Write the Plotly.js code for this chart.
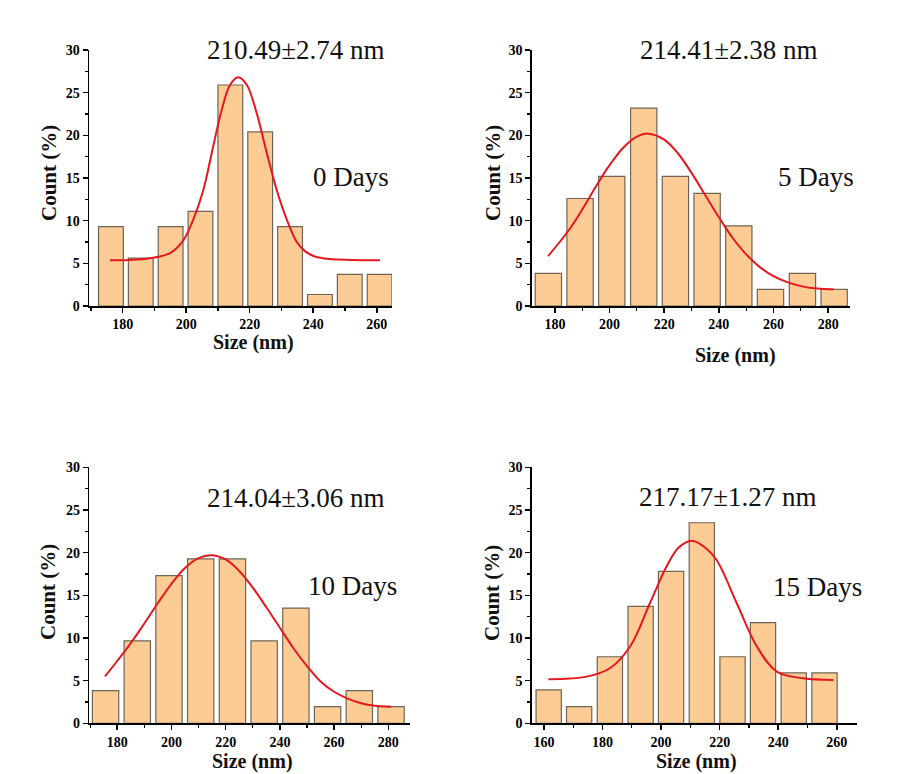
<!DOCTYPE html>
<html>
<head>
<meta charset="utf-8">
<script src="https://cdn.plot.ly/plotly-3.0.1.min.js"></script>
<style>html,body{margin:0;padding:0;background:#fff;}#chart{width:904px;height:774px;}</style>
</head>
<body>
<div id="chart"></div>
<script>
// ---- Data ----
// Panel 1: 0 Days
const bins0 = [176.3, 185.7, 195.1, 204.5, 213.9, 223.3, 232.7, 242.1, 251.5, 260.9];
const counts0 = [9.3, 5.6, 9.3, 11.1, 25.9, 20.4, 9.3, 1.35, 3.7, 3.7];
const fit0X = [176.0, 182.0, 188.6, 194.9, 199.1, 202.2, 205.4, 208.5, 211.2, 213.8, 216.4, 219.1, 222.2, 225.4, 228.5, 231.7, 234.8, 237.5, 240.5, 245.3, 252.0, 261.0];
const fit0Y = [5.35, 5.4, 5.6, 6.2, 7.7, 10.1, 13.6, 18.7, 23.0, 25.9, 26.8, 25.9, 22.6, 17.9, 13.6, 10.1, 7.5, 6.4, 5.8, 5.5, 5.4, 5.35];

// Panel 2: 5 Days
const bins5 = [177.6, 189.2, 200.8, 212.5, 224.1, 235.7, 247.3, 258.9, 270.6, 282.2];
const counts5 = [3.83, 12.6, 15.2, 23.2, 15.2, 13.2, 9.4, 1.95, 3.83, 1.95];
const fit5X = [177.5, 185, 190, 195, 200, 205, 210, 214.1, 220, 225, 230, 235, 240, 245, 250, 255, 260, 265, 270, 276, 282];
const fit5Y = [5.85, 8.85, 11.3, 14.0, 16.5, 18.55, 19.85, 20.2, 19.5, 17.9, 15.6, 13.0, 10.4, 8.0, 6.05, 4.56, 3.5, 2.8, 2.33, 2.04, 1.95];

// Panel 3: 10 Days
const bins10 = [175.7, 187.4, 199.1, 210.8, 222.5, 234.2, 245.9, 257.6, 269.3, 281.0];
const counts10 = [3.83, 9.65, 17.3, 19.26, 19.26, 9.65, 13.5, 1.95, 3.83, 1.95];
const fit10X = [175.5, 180, 185, 190, 195, 200, 205, 210, 214.5, 220, 225, 230, 235, 240, 245, 250, 255, 260, 265, 270, 275, 281];
const fit10Y = [5.5, 7.3, 9.4, 11.7, 14.1, 16.35, 18.2, 19.35, 19.7, 19.2, 17.85, 15.9, 13.6, 11.2, 8.8, 6.7, 4.9, 3.7, 2.9, 2.35, 2.05, 1.95];

// Panel 4: 15 Days
const bins15 = [161.6, 172.0, 182.5, 193.0, 203.4, 213.9, 224.4, 234.8, 245.3, 255.8];
const counts15 = [3.92, 1.96, 7.8, 13.7, 17.8, 23.5, 7.8, 11.8, 5.9, 5.9];
const fit15X = [161.5, 174.6, 182.5, 189.4, 196.2, 201.9, 206.0, 210.5, 215.0, 219.0, 225.8, 232.7, 239.5, 248.6, 258.8];
const fit15Y = [5.16, 5.47, 6.45, 9.0, 14.1, 18.4, 20.6, 21.4, 20.6, 19.1, 14.1, 9.0, 6.05, 5.27, 5.08];

const meanLabels = ['210.49±2.74 nm', '214.41±2.38 nm', '214.04±3.06 nm', '217.17±1.27 nm'];
const dayLabels = ['0 Days', '5 Days', '10 Days', '15 Days'];
const yTitle = 'Count (%)';
const xTitle = 'Size (nm)';

// ---- Styling ----
const W = 904, H = 774;
const serif = 'Liberation Serif, Times New Roman, serif';
const barFill = 'rgb(253,204,148)';
const barLine = 'rgb(110,100,85)';
const red = 'rgb(228,24,30)';

const panels = [
  {bins: bins0, counts: counts0, fx: fit0X, fy: fit0Y, xr: [169.4, 264.8], x0: 89, x1: 392, y0: 50, y1: 306, tick0: 180,
   mean: [296, 50], day: [351, 177], yt: [49, 173], xt: [253, 342]},
  {bins: bins5, counts: counts5, fx: fit5X, fy: fit5Y, xr: [171.5, 288], x0: 531.7, x1: 850, y0: 50, y1: 306, tick0: 180,
   mean: [729, 50], day: [816, 177], yt: [493, 173], xt: [735, 355]},
  {bins: bins10, counts: counts10, fx: fit10X, fy: fit10Y, xr: [169.7, 288], x0: 89.3, x1: 410, y0: 467.3, y1: 723.3, tick0: 180,
   mean: [296, 498], day: [352, 586], yt: [48, 592], xt: [252, 761]},
  {bins: bins15, counts: counts15, fx: fit15X, fy: fit15Y, xr: [155.8, 266.8], x0: 531.7, x1: 856.7, y0: 467.3, y1: 723.3, tick0: 160,
   mean: [728, 497], day: [817, 587], yt: [492, 593], xt: [696, 761]}
];

const data = [];
const layout = {
  width: W, height: H,
  margin: {l: 0, r: 0, t: 0, b: 0},
  paper_bgcolor: '#fff', plot_bgcolor: '#fff',
  font: {family: serif, color: '#000'},
  showlegend: false,
  bargap: 0.17,
  annotations: []
};

panels.forEach((p, i) => {
  const n = i + 1;
  const xa = n === 1 ? 'x' : 'x' + n;
  const ya = n === 1 ? 'y' : 'y' + n;
  data.push({
    type: 'bar', x: p.bins, y: p.counts, xaxis: xa, yaxis: ya,
    marker: {color: barFill, line: {color: barLine, width: 1.2}},
    hoverinfo: 'x+y'
  });
  data.push({
    type: 'scatter', mode: 'lines', x: p.fx, y: p.fy, xaxis: xa, yaxis: ya,
    line: {color: red, width: 2, shape: 'spline', smoothing: 1},
    hoverinfo: 'skip'
  });
  const mk = () => ({
    showline: true, linecolor: '#000', linewidth: 1.5,
    ticks: 'outside', ticklen: 5, tickwidth: 1.5, tickcolor: '#000',
    showgrid: false, zeroline: false,
    tickfont: {family: serif, size: 14, color: '#000', weight: 700}
  });
  layout['xaxis' + (n === 1 ? '' : n)] = Object.assign(mk(), {
    domain: [p.x0 / W, p.x1 / W],
    anchor: ya,
    range: p.xr,
    tick0: p.tick0, dtick: 20,
    minor: {ticks: 'outside', ticklen: 3, tickwidth: 1.2, tickcolor: '#000', dtick: 10, tick0: p.tick0, showgrid: false}
  });
  layout['yaxis' + (n === 1 ? '' : n)] = Object.assign(mk(), {
    domain: [1 - p.y1 / H, 1 - p.y0 / H],
    anchor: xa,
    range: [0, 30],
    tick0: 0, dtick: 5,
    minor: {ticks: 'outside', ticklen: 3, tickwidth: 1.2, tickcolor: '#000', dtick: 2.5, showgrid: false}
  });
  const ann = (txt, pos, size, bold, angle) => ({
    text: txt, xref: 'paper', yref: 'paper',
    x: pos[0] / W, y: 1 - pos[1] / H, xanchor: 'center', yanchor: 'middle',
    showarrow: false, textangle: angle || 0,
    font: {family: serif, size: size, color: '#111', weight: bold ? 700 : 400}
  });
  layout.annotations.push(ann(meanLabels[i], p.mean, 27, false));
  layout.annotations.push(ann(dayLabels[i], p.day, 27, false));
  layout.annotations.push(ann(yTitle, p.yt, 21, true, -90));
  layout.annotations.push(ann(xTitle, p.xt, 20, true));
});

Plotly.newPlot('chart', data, layout, {displayModeBar: false, staticPlot: true});
</script>
</body>
</html>
